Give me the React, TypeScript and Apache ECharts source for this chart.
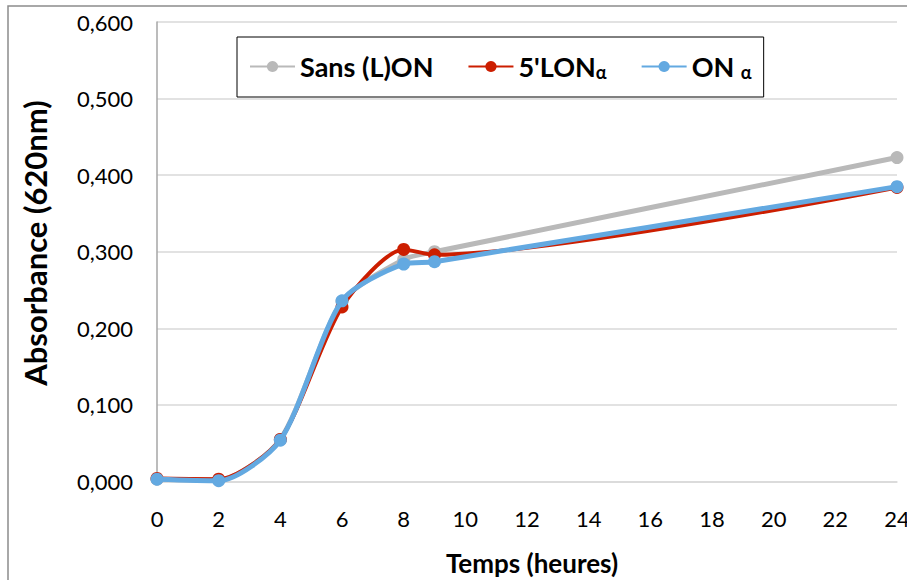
import React, { useEffect, useRef } from "react";
import * as echarts from "echarts";

const hours = [0, 2, 4, 6, 8, 9, 24];
const sansLON = [0.003, 0.002, 0.055, 0.235, 0.29, 0.3, 0.423];
const lon5 = [0.004, 0.003, 0.055, 0.228, 0.303, 0.296, 0.384];
const onAlpha = [0.003, 0.001, 0.054, 0.236, 0.284, 0.287, 0.385];

const seriesNames = ["Sans (L)ON", "5'LONα", "ON α"];
const seriesColors = ["#b9b9b9", "#cc1e00", "#63a9e1"];
const seriesValues = [sansLON, lon5, onAlpha];

const xTitle = "Temps (heures)";
const yTitle = "Absorbance (620nm)";

const FONT = "Lato";

export default function App() {
  const ref = useRef<HTMLDivElement>(null);
  useEffect(() => {
    if (!ref.current) return;
    const chart = echarts.init(ref.current, undefined, { renderer: "svg" });
    chart.setOption({
      animation: false,
      backgroundColor: "#fff",
      textStyle: { fontFamily: FONT },
      grid: {
        left: 157,
        width: 740,
        top: 22,
        height: 459.5,
        containLabel: false,
        outerBoundsMode: "none",
      },
      legend: {
        left: 237,
        top: 37,
        borderColor: "#000",
        borderWidth: 1,
        padding: [16, 12, 16, 12],
        itemGap: 34,
        itemWidth: 45,
        itemHeight: 14,
        data: seriesNames,
        formatter: (name: string) => {
          if (name === "5'LONα") return "5'LON{sub|α}";
          if (name === "ON α") return "ON {sub|α}";
          return name;
        },
        textStyle: {
          fontFamily: FONT,
          fontSize: 27,
          fontWeight: "bold",
          color: "#000",
          rich: {
            sub: {
              fontFamily: FONT,
              fontSize: 18,
              fontWeight: "bold",
              color: "#000",
              verticalAlign: "bottom",
              padding: [11, 0, 0, 0],
            },
          },
        },
      },
      xAxis: {
        type: "value",
        min: 0,
        max: 24,
        interval: 2,
        axisLine: { show: true, lineStyle: { color: "#d9d9d9", width: 1.5 } },
        axisTick: { show: false },
        splitLine: { show: false },
        axisLabel: { fontFamily: FONT, fontSize: 22, color: "#000", margin: 26 },
      },
      yAxis: {
        type: "value",
        min: 0,
        max: 0.6,
        interval: 0.1,
        axisLine: { show: true, lineStyle: { color: "#a6a6a6", width: 1.5 } },
        axisTick: { show: false },
        splitLine: { show: true, lineStyle: { color: "#d9d9d9", width: 1.5 } },
        axisLabel: {
          fontFamily: FONT,
          fontSize: 22,
          color: "#000",
          margin: 24,
          formatter: (v: number) => v.toFixed(3).replace(".", ","),
        },
      },
      graphic: [
        {
          type: "rect",
          shape: { x: 8, y: 6, width: 1200, height: 1200 },
          style: { fill: "none", stroke: "#8c8c8c", lineWidth: 1.5 },
          silent: true,
        },
        {
          type: "text",
          x: 532,
          y: 563,
          style: {
            text: xTitle,
            fontFamily: FONT,
            fontSize: 26,
            fontWeight: "bold",
            fill: "#000",
            textAlign: "center",
            textVerticalAlign: "middle",
          },
        },
        {
          type: "text",
          x: 35,
          y: 243,
          rotation: Math.PI / 2,
          style: {
            text: yTitle,
            fontFamily: FONT,
            fontSize: 31,
            fontWeight: "bold",
            fill: "#000",
            textAlign: "center",
            textVerticalAlign: "middle",
          },
        },
      ],
      series: seriesNames.map((name, i) => ({
        name,
        type: "line",
        smooth: 0.25,
        symbol: "circle",
        symbolSize: 13,
        data: hours.map((h, j) => [h, seriesValues[i][j]]),
        lineStyle: { color: seriesColors[i], width: i === 1 ? 4 : 5 },
        itemStyle: { color: seriesColors[i] },
        z: 2 + i,
      })),
    });
    return () => chart.dispose();
  }, []);
  return (
    <div
      ref={ref}
      style={{ position: "absolute", left: 0, top: 0, width: 907, height: 580 }}
    />
  );
}
